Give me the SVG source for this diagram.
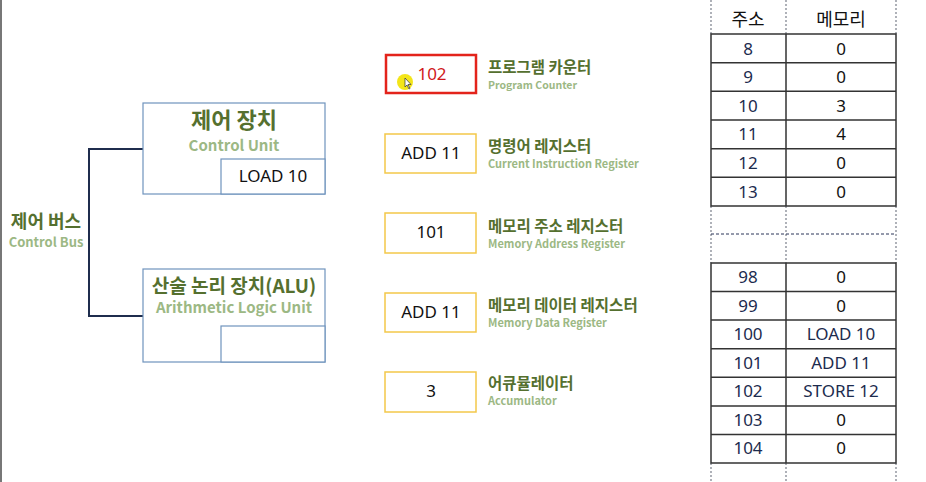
<svg xmlns="http://www.w3.org/2000/svg" width="926" height="482" viewBox="0 0 926 482">
<style>
.box{fill:#fff;stroke:#6f93bd;stroke-width:1.2}
.reg{fill:#fff;stroke:#f3c84a;stroke-width:1.5}
.ko{font-family:"Noto Sans CJK KR","Noto Sans",sans-serif;font-weight:bold;fill:#55702f}
.en{font-family:"Noto Sans CJK KR","Noto Sans",sans-serif;font-weight:bold;fill:#9cb884}
.val{font-family:"Noto Sans","Noto Sans CJK KR",sans-serif;font-size:17px;fill:#111;text-anchor:middle}
.addr{font-family:"Noto Sans","Noto Sans CJK KR",sans-serif;font-size:17px;fill:#1c2b4e;text-anchor:middle}
.mem{font-family:"Noto Sans","Noto Sans CJK KR",sans-serif;font-size:17px;fill:#111;text-anchor:middle}
.ins{fill:#1c2b4e}
.grid{stroke:#333;stroke-width:1.5;fill:none}
.dot{stroke:#7a7f8a;stroke-width:1.2;stroke-dasharray:2 2;fill:none}
</style>
<line x1="1" y1="0" x2="1" y2="482" stroke="#777" stroke-width="2"/>

<g id="connectors">
<polyline points="143,149 89,149 89,316 143,316" fill="none" stroke="#1f2d4d" stroke-width="2"/>
</g>

<g id="control-bus">
<text class="ko" x="46" y="228" font-size="18" text-anchor="middle">제어 버스</text>
<text class="en" x="46" y="247" font-size="13" text-anchor="middle">Control Bus</text>
</g>

<g id="control-unit">
<rect class="box" x="143" y="103" width="182" height="91"/>
<rect class="box" x="221" y="159" width="104" height="35"/>
<text class="ko" x="234" y="128" font-size="22" text-anchor="middle">제어 장치</text>
<text class="en" x="234" y="151" font-size="15" text-anchor="middle">Control Unit</text>
<text class="val" x="273" y="182">LOAD 10</text>
</g>

<g id="alu">
<rect class="box" x="143" y="269" width="182" height="93"/>
<rect class="box" x="221" y="326" width="104" height="36"/>
<text class="ko" x="234" y="293" font-size="19" text-anchor="middle">산술 논리 장치(ALU)</text>
<text class="en" x="234" y="313" font-size="15" text-anchor="middle">Arithmetic Logic Unit</text>
</g>

<g id="pc">
<rect x="386" y="55" width="90" height="38" fill="#fff" stroke="#e3231b" stroke-width="2.5"/>
<text class="val" x="432" y="80" style="fill:#d0191b">102</text>
<text class="ko" x="488" y="73" font-size="15.5">프로그램 카운터</text>
<text class="en" x="488" y="89" font-size="10.5">Program Counter</text>
</g>

<g id="cursor">
<circle cx="405" cy="82" r="8" fill="#f2e200" opacity="0.9"/>
<path d="M405,78 L405,87 L407,85 L409,89 L410,88.5 L408,84.5 L411,84.5 Z" fill="#fff" stroke="#333" stroke-width="0.7"/>
</g>

<g id="cir">
<rect class="reg" x="385" y="134" width="91" height="39"/>
<text class="val" x="431" y="159">ADD 11</text>
<text class="ko" x="488" y="152" font-size="15.5">명령어 레지스터</text>
<text class="en" x="488" y="168" font-size="11">Current Instruction Register</text>
</g>

<g id="mar">
<rect class="reg" x="385" y="213" width="91" height="40"/>
<text class="val" x="431" y="238">101</text>
<text class="ko" x="488" y="231.5" font-size="15.5">메모리 주소 레지스터</text>
<text class="en" x="488" y="247.5" font-size="11">Memory Address Register</text>
</g>

<g id="mdr">
<rect class="reg" x="385" y="293" width="91" height="39"/>
<text class="val" x="431" y="318">ADD 11</text>
<text class="ko" x="488" y="310.5" font-size="15.5">메모리 데이터 레지스터</text>
<text class="en" x="488" y="326.5" font-size="11">Memory Data Register</text>
</g>

<g id="acc">
<rect class="reg" x="385" y="372" width="91" height="40"/>
<text class="val" x="431" y="397">3</text>
<text class="ko" x="488" y="388.5" font-size="15.5">어큐뮬레이터</text>
<text class="en" x="488" y="404.5" font-size="11">Accumulator</text>
</g>

<g id="memory-table">
<path class="dot" d="M711,0V34M786,0V34M896,0V34M711,206V263M786,206V263M896,206V263M711,463V482M786,463V482M896,463V482"/>
<line x1="711" y1="234" x2="896" y2="234" stroke="#2a3558" stroke-width="1" stroke-dasharray="3 2"/>
<text class="addr" x="748" y="26" style="fill:#111;font-size:18px">주소</text>
<text class="mem" x="841" y="26" style="font-size:18px">메모리</text>
<path class="grid" d="M711,34H896V206H711Z M711,62.7H896M711,91.3H896M711,120H896M711,148.7H896M711,177.3H896M786,34V206"/>
<path class="grid" d="M711,263H896V463H711Z M711,291.6H896M711,320.1H896M711,348.7H896M711,377.3H896M711,405.9H896M711,434.4H896M786,263V463"/>
<text class="addr" x="748" y="54.5">8</text><text class="mem" x="841" y="54.5">0</text>
<text class="addr" x="748" y="83">9</text><text class="mem" x="841" y="83">0</text>
<text class="addr" x="748" y="111.5">10</text><text class="mem" x="841" y="111.5">3</text>
<text class="addr" x="748" y="140">11</text><text class="mem" x="841" y="140">4</text>
<text class="addr" x="748" y="169">12</text><text class="mem" x="841" y="169">0</text>
<text class="addr" x="748" y="197.5">13</text><text class="mem" x="841" y="197.5">0</text>
<text class="addr" x="748" y="283">98</text><text class="mem" x="841" y="283">0</text>
<text class="addr" x="748" y="311.5">99</text><text class="mem" x="841" y="311.5">0</text>
<text class="addr" x="748" y="340">100</text><text class="mem ins" x="841" y="340">LOAD 10</text>
<text class="addr" x="748" y="368.5">101</text><text class="mem ins" x="841" y="368.5">ADD 11</text>
<text class="addr" x="748" y="397">102</text><text class="mem ins" x="841" y="397">STORE 12</text>
<text class="addr" x="748" y="425.5">103</text><text class="mem" x="841" y="425.5">0</text>
<text class="addr" x="748" y="454">104</text><text class="mem" x="841" y="454">0</text>
</g>
</svg>
